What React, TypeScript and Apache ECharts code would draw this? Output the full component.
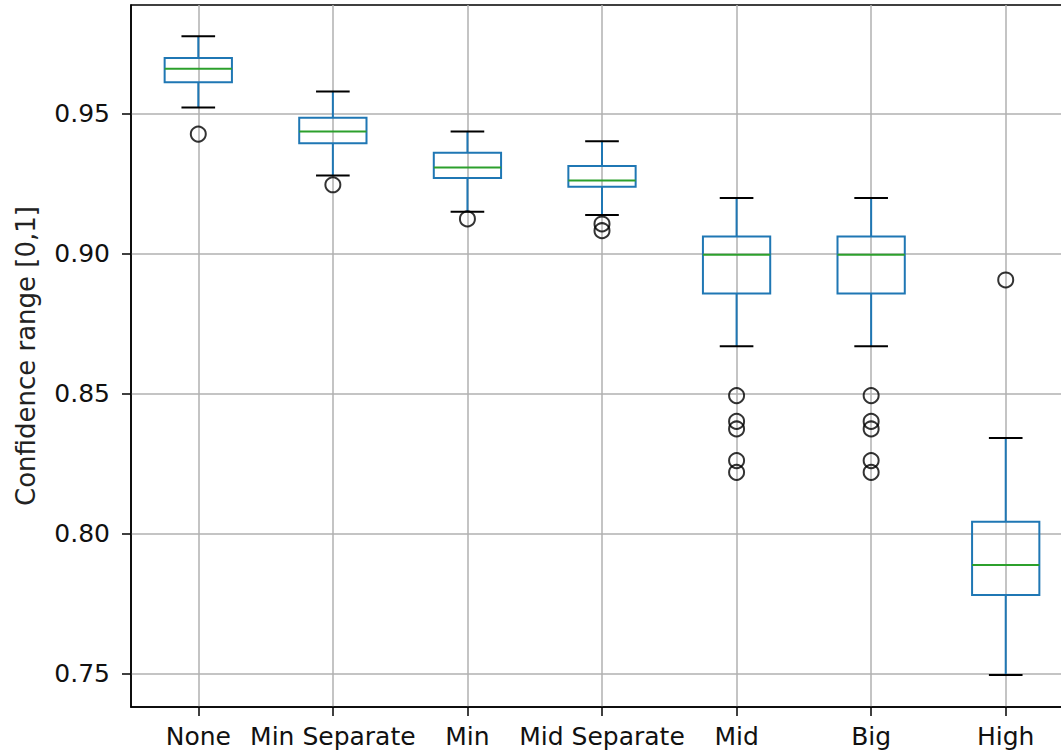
import React, { useEffect, useRef } from "react";
import * as echarts from "echarts";

const categories = ["None", "Min Separate", "Min", "Mid Separate", "Mid", "Big", "High"];
const whiskerLow = [0.9522, 0.9279, 0.915, 0.9138, 0.8669, 0.8669, 0.7495];
const q1 = [0.9612, 0.9394, 0.927, 0.9239, 0.8858, 0.8858, 0.7781];
const median = [0.966, 0.9436, 0.9308, 0.9261, 0.8996, 0.8996, 0.7888];
const q3 = [0.9699, 0.9485, 0.936, 0.9313, 0.9061, 0.9061, 0.8043];
const whiskerHigh = [0.9776, 0.9579, 0.9436, 0.9401, 0.9199, 0.9199, 0.8342];
const outliers: number[][] = [
  [0.9427],
  [0.9246],
  [0.9124],
  [0.9106, 0.9082],
  [0.8493, 0.8401, 0.8374, 0.8261, 0.8219],
  [0.8493, 0.8401, 0.8374, 0.8261, 0.8219],
  [0.8906],
];
const yTicks = [0.75, 0.8, 0.85, 0.9, 0.95];
const yLabel = "Confidence range [0,1]";

const BLUE = "#1f77b4";
const GREEN = "#2ca02c";

export default function App() {
  const ref = useRef<HTMLDivElement>(null);
  useEffect(() => {
    const chart = echarts.init(ref.current!, null, { renderer: "svg" });
    const positions = categories.map((_, i) => i + 1);
    const boxData = categories.map((_, i) => [
      i + 1,
      whiskerLow[i],
      q1[i],
      median[i],
      q3[i],
      whiskerHigh[i],
    ]);
    const flierData: number[][] = [];
    outliers.forEach((arr, i) => arr.forEach((v) => flierData.push([i + 1, v])));

    chart.setOption({
      animation: false,
      backgroundColor: "#fff",
      grid: {
        left: 131,
        right: 1,
        top: 5,
        bottom: 49,
        show: true,
        borderColor: "#000",
        borderWidth: 1.5,
      },
      xAxis: {
        type: "value",
        min: 0.5,
        max: 7.5,
        splitNumber: 7,
        axisLine: { show: true, lineStyle: { color: "#000", width: 1.5 } },
        axisTick: {
          show: true,
          length: 9,
          customValues: positions,
          lineStyle: { color: "#000", width: 1.5 },
        },
        axisLabel: {
          customValues: positions,
          margin: 17,
          fontFamily: "DejaVu Sans",
          fontSize: 25,
          color: "#111",
          formatter: (v: number) => {
            const r = Math.round(v);
            return Math.abs(v - r) < 1e-6 && r >= 1 && r <= categories.length ? categories[r - 1] : "";
          },
        },
        splitLine: { show: true, lineStyle: { color: "#b0b0b0", width: 1.5 } },
      },
      yAxis: {
        type: "value",
        min: 0.7381,
        max: 0.9888,
        splitNumber: 5,
        name: yLabel,
        nameLocation: "middle",
        nameGap: 92,
        nameTextStyle: { fontFamily: "DejaVu Sans", fontSize: 26, color: "#222" },
        axisLine: { show: true, lineStyle: { color: "#000", width: 1.5 } },
        axisTick: {
          show: true,
          length: 9,
          customValues: yTicks,
          lineStyle: { color: "#000", width: 1.5 },
        },
        axisLabel: {
          customValues: yTicks,
          margin: 21,
          fontFamily: "DejaVu Sans",
          fontSize: 25,
          color: "#111",
          formatter: (v: number) => v.toFixed(2),
        },
        splitLine: { show: true, lineStyle: { color: "#b0b0b0", width: 1.5 } },
      },
      series: [
        {
          type: "custom",
          data: boxData,
          encode: { x: 0, y: [1, 2, 3, 4, 5] },
          renderItem: (params: any, api: any) => {
            const x = api.value(0);
            const pLo = api.coord([x, api.value(1)]);
            const pQ1 = api.coord([x, api.value(2)]);
            const pMed = api.coord([x, api.value(3)]);
            const pQ3 = api.coord([x, api.value(4)]);
            const pHi = api.coord([x, api.value(5)]);
            const halfW = api.size([0.25, 0])[0];
            const capHalf = api.size([0.125, 0])[0];
            const cx = pMed[0];
            const blueLine = { stroke: BLUE, lineWidth: 2, fill: null };
            const blackLine = { stroke: "#000", lineWidth: 2, fill: null };
            return {
              type: "group",
              children: [
                { type: "line", shape: { x1: cx, y1: pHi[1], x2: cx, y2: pQ3[1] }, style: blueLine },
                { type: "line", shape: { x1: cx, y1: pQ1[1], x2: cx, y2: pLo[1] }, style: blueLine },
                {
                  type: "rect",
                  shape: { x: cx - halfW, y: pQ3[1], width: 2 * halfW, height: pQ1[1] - pQ3[1] },
                  style: { stroke: BLUE, lineWidth: 2, fill: "none" },
                },
                {
                  type: "line",
                  shape: { x1: cx - halfW, y1: pMed[1], x2: cx + halfW, y2: pMed[1] },
                  style: { stroke: GREEN, lineWidth: 2 },
                },
                { type: "line", shape: { x1: cx - capHalf, y1: pHi[1], x2: cx + capHalf, y2: pHi[1] }, style: blackLine },
                { type: "line", shape: { x1: cx - capHalf, y1: pLo[1], x2: cx + capHalf, y2: pLo[1] }, style: blackLine },
              ],
            };
          },
          z: 3,
        },
        {
          type: "scatter",
          data: flierData,
          symbol: "circle",
          symbolSize: 15,
          itemStyle: { color: "rgba(0,0,0,0)", borderColor: "#000", borderWidth: 2 },
          z: 4,
        },
      ],
    });
    return () => chart.dispose();
  }, []);
  return (
    <div
      style={{
        position: "fixed",
        left: 0,
        top: 0,
        width: 1061,
        height: 756,
        overflow: "hidden",
        background: "#fff",
      }}
    >
      <div ref={ref} style={{ width: 1074, height: 756 }} />
    </div>
  );
}
